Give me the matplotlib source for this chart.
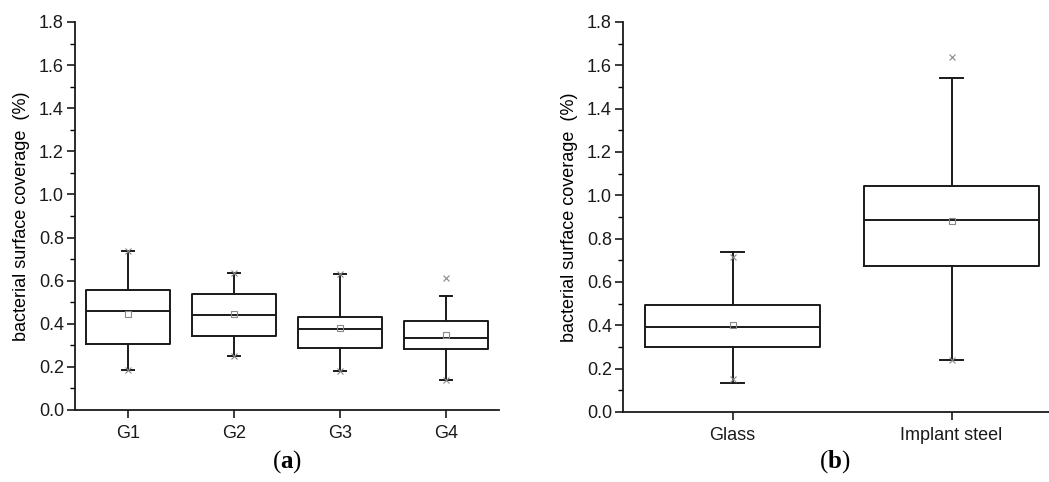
import matplotlib
matplotlib.use("Agg")
import matplotlib.pyplot as plt
from matplotlib.ticker import MultipleLocator

plt.rcParams['font.family'] = ['Liberation Sans', 'DejaVu Sans']
plt.rcParams['mathtext.fontset'] = 'custom'
plt.rcParams['mathtext.rm'] = 'Liberation Serif'
plt.rcParams['mathtext.bf'] = 'Liberation Serif:bold'

# panel (a) data: groups G1..G4
groups_a = ['G1', 'G2', 'G3', 'G4']
whislo_a = [0.186, 0.252, 0.182, 0.138]
q1_a = [0.308, 0.342, 0.289, 0.281]
med_a = [0.459, 0.439, 0.374, 0.335]
q3_a = [0.557, 0.538, 0.433, 0.411]
whishi_a = [0.739, 0.637, 0.629, 0.527]
mean_a = [0.447, 0.445, 0.379, 0.348]
extremes_a = [[0.186, 0.739], [0.252, 0.637], [0.182, 0.629], [0.138, 0.614]]

# panel (b) data: Glass vs Implant steel
groups_b = ['Glass', 'Implant steel']
whislo_b = [0.135, 0.241]
q1_b = [0.300, 0.675]
med_b = [0.391, 0.886]
q3_b = [0.495, 1.042]
whishi_b = [0.738, 1.542]
mean_b = [0.403, 0.880]
extremes_b = [[0.154, 0.716], [0.241, 1.639]]


def make_stats(labels, lo, q1, med, q3, hi, mean, fl):
    stats = []
    for i in range(len(labels)):
        stats.append(dict(label=labels[i], whislo=lo[i], q1=q1[i], med=med[i],
                          q3=q3[i], whishi=hi[i], mean=mean[i], fliers=fl[i]))
    return stats


def draw_panel(ax, stats):
    line = dict(color='#1a1a1a', linewidth=1.4)
    ax.bxp(stats, widths=0.8, showmeans=True, showfliers=True,
           boxprops=line, medianprops=line, whiskerprops=line, capprops=line,
           capwidths=0.105,
           meanprops=dict(marker='s', markersize=4, markerfacecolor='none',
                          markeredgecolor='#888888', markeredgewidth=0.8),
           flierprops=dict(marker='x', markersize=4, markeredgecolor='#888888',
                           markeredgewidth=0.8))
    ax.set_ylim(0, 1.8)
    ax.yaxis.set_major_locator(MultipleLocator(0.2))
    ax.yaxis.set_minor_locator(MultipleLocator(0.1))
    ax.yaxis.set_major_formatter(plt.FormatStrFormatter('%.1f'))
    ax.spines['top'].set_visible(False)
    ax.spines['right'].set_visible(False)
    for s in ['left', 'bottom']:
        ax.spines[s].set_linewidth(1.3)
        ax.spines[s].set_color('#1a1a1a')
    ax.tick_params(axis='both', which='major', direction='out', length=6,
                   width=1.2, labelsize=13, colors='#1a1a1a')
    ax.tick_params(axis='y', which='major', pad=2)
    ax.tick_params(axis='y', which='minor', direction='out', length=3.5, width=1.0)
    ax.tick_params(axis='x', which='major', pad=5)
    ax.set_ylabel('bacterial surface coverage  (%)', fontsize=13, labelpad=6)


fig = plt.figure(figsize=(10.49, 4.82), dpi=100)

ax1 = fig.add_axes([75 / 1049, 1 - 410 / 482, 424 / 1049, 388 / 482])
draw_panel(ax1, make_stats(groups_a, whislo_a, q1_a, med_a, q3_a, whishi_a, mean_a, extremes_a))
ax1.set_xlim(0.5, 4.5)

ax2 = fig.add_axes([623 / 1049, 1 - 412 / 482, 438 / 1049, 390 / 482])
draw_panel(ax2, make_stats(groups_b, whislo_b, q1_b, med_b, q3_b, whishi_b, mean_b, extremes_b))
ax2.set_xlim(0.5, 2.5)

fig.text(287 / 1049, 1 - 462 / 482, r'($\mathbf{a}$)', fontsize=18,
         family='Liberation Serif', ha='center', va='center')
fig.text(835 / 1049, 1 - 462 / 482, r'($\mathbf{b}$)', fontsize=18,
         family='Liberation Serif', ha='center', va='center')

fig.savefig('out.png', dpi=100)
